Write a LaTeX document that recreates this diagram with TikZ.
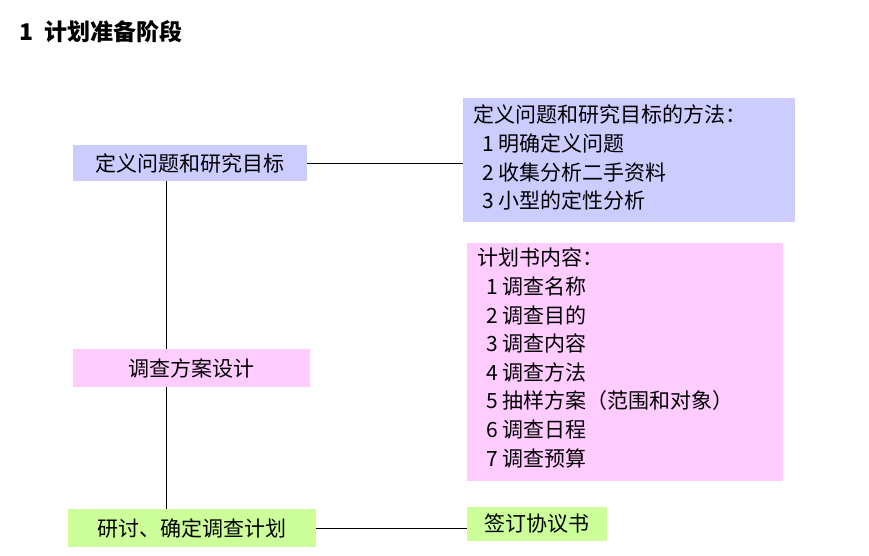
\documentclass[tikz,border=0pt]{standalone}
\usepackage{fontspec}
\setmainfont{Noto Sans CJK SC}
\begin{document}
\begin{tikzpicture}[x=1pt,y=-1pt,
 t/.style={font=\fontsize{21}{28.6}\selectfont},
 lav/.style={fill={rgb,255:red,204;green,204;blue,255}},
 pnk/.style={fill={rgb,255:red,255;green,204;blue,255}},
 grn/.style={fill={rgb,255:red,204;green,255;blue,153}},
 lst/.style={t,anchor=north west,align=left,inner sep=0pt}]
\useasboundingbox (0,0) rectangle (869,556);
\node[anchor=west,font=\fontsize{23}{26}\selectfont\bfseries] (title) at (16,32) {1\ \ 计划准备阶段};
\node[lav,t,minimum width=234pt,minimum height=36pt,inner sep=0pt] (a) at (190,163) {定义问题和研究目标};
\node[pnk,t,minimum width=237pt,minimum height=38pt,inner sep=0pt] (b) at (191.5,368) {调查方案设计};
\node[grn,t,minimum width=248pt,minimum height=38pt,inner sep=0pt] (c) at (192,528) {研讨、确定调查计划};
\node[grn,t,minimum width=140pt,minimum height=34pt,inner sep=0pt] (d) at (537,524) {签订协议书};
\node[lav,minimum width=332pt,minimum height=124pt,anchor=north west,inner sep=0pt] (m) at (463,98) {};
\node[lst] (mt) at (473,105)
 {定义问题和研究目标的方法：\\\ \ 1 明确定义问题\\\ \ 2 收集分析二手资料\\\ \ 3 小型的定性分析};
\node[pnk,minimum width=316pt,minimum height=238pt,anchor=north west,inner sep=0pt] (p) at (467,243) {};
\node[lst] (pt) at (477,248)
 {计划书内容：\\\ \ 1 调查名称\\\ \ 2 调查目的\\\ \ 3 调查内容\\\ \ 4 调查方法\\\ \ 5 抽样方案（范围和对象）\\\ \ 6 调查日程\\\ \ 7 调查预算};
\draw (a.east) -- (a.east -| m.west);
\draw (c.east) -- (c.east -| d.west);
\draw (a.south -| 166,0) -- (b.north -| 166,0);
\draw (b.south -| 166,0) -- (c.north -| 166,0);
\end{tikzpicture}
\end{document}
